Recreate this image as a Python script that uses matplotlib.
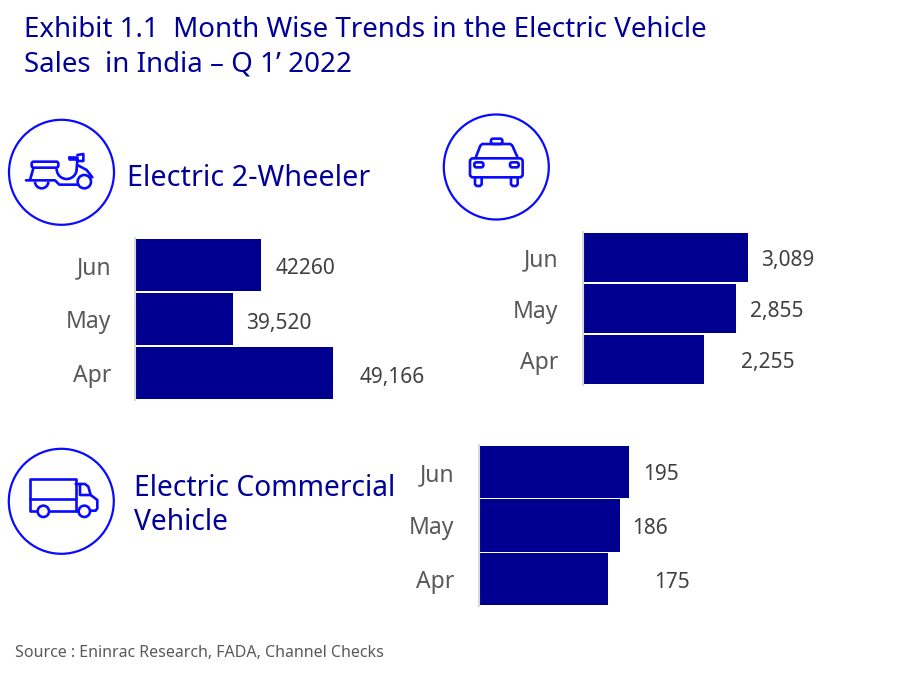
import matplotlib.pyplot as plt
from matplotlib.patches import Circle, FancyBboxPatch, Arc

W, H = 907, 682
BAR = '#000090'
ICON = '#0a0aff'
TITLE = '#000099'
GREY = '#595959'
LW = 1.9

plt.rcParams['font.family'] = ['Noto Sans', 'DejaVu Sans']

months = ['Apr', 'May', 'Jun']

two_wheeler = [49166, 39520, 42260]
two_wheeler_labels = ['49,166', '39,520', '42260']

four_wheeler = [2255, 2855, 3089]
four_wheeler_labels = ['2,255', '2,855', '3,089']

commercial = [175, 186, 195]
commercial_labels = ['175', '186', '195']

fig = plt.figure(figsize=(W / 100, H / 100), dpi=100, facecolor='white')

# overlay in pixel coords for text and icons
bg = fig.add_axes([0, 0, 1, 1])
bg.set_xlim(0, W)
bg.set_ylim(H, 0)
bg.axis('off')


def bar_panel(left, top, right, bottom, xlim, values, labels, offsets, tick_pad, gap, dy):
    ax = fig.add_axes([left / W, 1 - bottom / H, (right - left) / W, (bottom - top) / H])
    ax.barh(months, values, height=gap, color=BAR)
    ax.set_xlim(*xlim)
    ax.set_ylim(-0.5, 2.5)
    ax.patch.set_alpha(0)
    for s in ['top', 'right', 'bottom']:
        ax.spines[s].set_visible(False)
    ax.spines['left'].set_color('#d9d9d9')
    ax.spines['left'].set_linewidth(1.5)
    ax.xaxis.set_visible(False)
    ax.tick_params(axis='y', length=0, pad=tick_pad, labelsize=16.5, labelcolor=GREY)
    for i, v in enumerate(values):
        ax.annotate(labels[i], (v, i), xytext=(offsets[i], dy), textcoords='offset pixels',
                    va='center', ha='left', fontsize=15, color='#404040')
    return ax


bar_panel(134.5, 238, 335, 400, (30000, 49360), two_wheeler, two_wheeler_labels, [27, 13, 14], 16.5, 0.963, -4)
bar_panel(583, 232, 783.5, 385, (0, 3745), four_wheeler, four_wheeler_labels, [37, 14, 13], 17.5, 0.96, -3)
bar_panel(479, 445, 679.5, 606, (50, 244), commercial, commercial_labels, [46, 13, 14], 17.5, 0.97, -3)

bg.text(24, 30, 'Exhibit 1.1  Month Wise Trends in the Electric Vehicle', fontsize=19.95, color=TITLE, va='center')
bg.text(24, 64.5, 'Sales  in India \u2013 Q 1\u2019 2022', fontsize=19.95, color=TITLE, va='center')
bg.text(127, 178, 'Electric 2-Wheeler', fontsize=20.7, color=TITLE, va='center')
bg.text(134, 489, 'Electric Commercial', fontsize=20.3, color=TITLE, va='center')
bg.text(134, 523, 'Vehicle', fontsize=20.3, color=TITLE, va='center')
bg.text(15, 653, 'Source : Eninrac Research, FADA, Channel Checks', fontsize=11.5, color=GREY, va='center')

for cx, cy in [(61.5, 172.3), (496.3, 167), (61.3, 501.3)]:
    bg.add_patch(Circle((cx, cy), 52.5, fill=False, ec=ICON, lw=1.6))


def line(ox, oy, pts):
    bg.plot([ox + p[0] / 3 for p in pts], [oy + p[1] / 3 for p in pts], color=ICON, lw=LW,
            solid_joinstyle='round', solid_capstyle='round')


def ring(ox, oy, x, y, r):
    bg.add_patch(Circle((ox + x / 3, oy + y / 3), r / 3, fc='white', ec=ICON, lw=LW, zorder=3))


def rbox(ox, oy, x0, y0, x1, y1, rad=2):
    bg.add_patch(FancyBboxPatch((ox + x0 / 3, oy + y0 / 3), (x1 - x0) / 3, (y1 - y0) / 3,
                                boxstyle=f'round,pad=0,rounding_size={rad}', fc='white', ec=ICON, lw=LW, zorder=2))


def arc(ox, oy, x, y, r, a0, a1):
    bg.add_patch(Arc((ox + x / 3, oy + y / 3), 2 * r / 3, 2 * r / 3, theta1=a0, theta2=a1, ec=ICON, lw=LW))


# scooter
ox, oy = 0, 100
line(ox, oy, [(78, 241), (165, 241), (178, 254), (235, 254)])
line(ox, oy, [(100, 205), (90, 240)])
arc(ox, oy, 125, 245, 20, 0, 180)
ring(ox, oy, 253, 245, 20)
rbox(ox, oy, 95, 185, 175, 203)
arc(ox, oy, 200, 207, 30, 0, 180)
line(ox, oy, [(230, 207), (232, 178)])
line(ox, oy, [(232, 195), (260, 210), (277, 232)])
line(ox, oy, [(208, 170), (232, 170), (232, 178), (208, 178), (208, 170)])
line(ox, oy, [(232, 165), (250, 162), (250, 183), (235, 183)])

# car
ox, oy = 435, 105
rbox(ox, oy, 168, 101, 202, 117)
line(ox, oy, [(122, 158), (136, 122), (142, 117), (226, 117), (232, 122), (248, 158)])
rbox(ox, oy, 118, 172, 145, 187)
rbox(ox, oy, 225, 172, 251, 187)
line(ox, oy, [(120, 217), (120, 238), (125, 243), (135, 243), (140, 238), (140, 217)])
line(ox, oy, [(228, 217), (228, 238), (233, 243), (243, 243), (248, 238), (248, 217)])
bg.add_patch(FancyBboxPatch((ox + 105 / 3, oy + 160 / 3), 158 / 3, 57 / 3,
                            boxstyle='round,pad=0,rounding_size=3', fill=False, ec=ICON, lw=LW))

# truck
ox, oy = 0, 440
line(ox, oy, [(112, 212), (90, 212), (90, 118), (227, 118), (227, 212)])
line(ox, oy, [(90, 177), (227, 177)])
line(ox, oy, [(148, 212), (235, 212)])
line(ox, oy, [(227, 132), (255, 132), (265, 140), (272, 165), (240, 165), (240, 132)])
line(ox, oy, [(272, 165), (292, 180), (292, 205), (287, 212), (272, 212)])
ring(ox, oy, 130, 214, 17)
ring(ox, oy, 253, 214, 17)

fig.savefig('out.png', dpi=100, facecolor='white')
